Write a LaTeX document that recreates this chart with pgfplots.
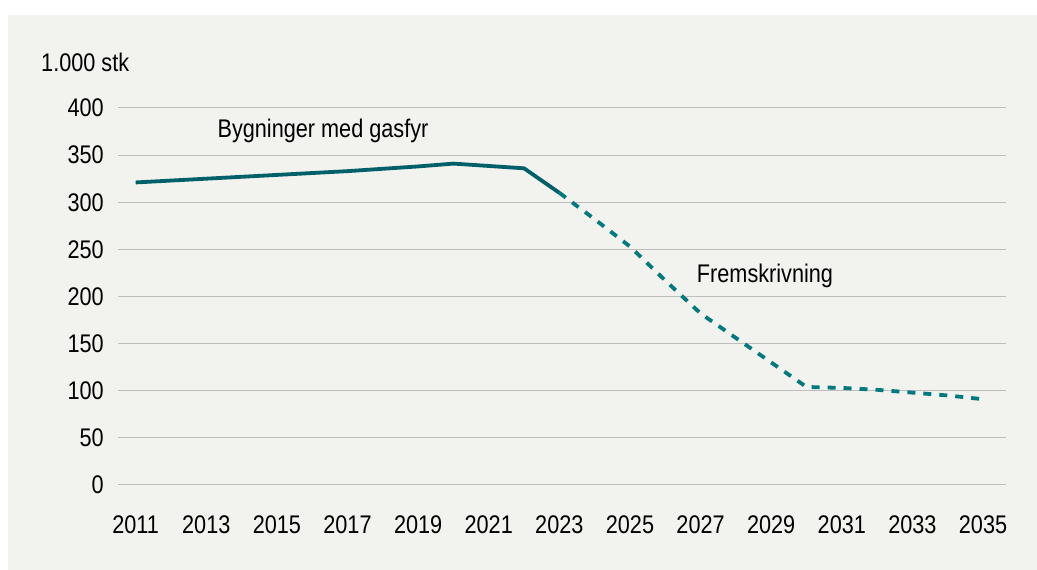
\documentclass[border=0pt]{standalone}
\usepackage{fontspec}
\setmainfont{Liberation Sans}[FakeStretch=0.85]
\usepackage{pgfplots}
\pgfplotsset{compat=1.18}
\definecolor{bg}{HTML}{F2F2EE}
\definecolor{solidc}{HTML}{00606A}
\definecolor{dashc}{HTML}{00797F}
\definecolor{gridc}{HTML}{BDBDBD}
\begin{document}
\begin{tikzpicture}[x=1pt,y=1pt]
\fill[white] (0,0) rectangle (1037,570);
\fill[bg] (8,0) rectangle (1037,555);
\begin{axis}[
  at={(118pt,85pt)}, anchor=south west,
  scale only axis, width=888pt, height=377pt,
  xmin=2010.5, xmax=2035.65, ymin=0, ymax=400,
  axis line style={draw=none}, tick style={draw=none},
  ymajorgrids, grid style={gridc, line width=1pt},
  xtick={2011,2013,...,2035},
  xticklabels={2011,2013,2015,2017,2019,2021,2023,2025,2027,2029,2031,2033,2035},
  ytick={0,50,...,400},
  /pgf/number format/assume math mode=true,
  tick label style={font=\fontsize{25.5}{29}\selectfont, inner sep=0pt},
  yticklabel style={anchor=east, xshift=-14pt},
  xticklabel style={anchor=north, yshift=-30pt},
  clip=false,
]
\addplot[solidc, line width=3.8pt, line join=round] coordinates {
 (2011,321) (2012,323) (2013,325) (2014,327) (2015,329) (2016,331)
 (2017,333) (2018,335.5) (2019,338) (2020,341) (2021,338.5) (2022,336) (2023,310)
};
\addplot[dashc, line width=3.8pt, dash pattern=on 8pt off 8pt] coordinates {
 (2023,310) (2024,282) (2025,253) (2026,217) (2027,182) (2028,156) (2029,130)
 (2030,104) (2031,103) (2032,101) (2033,98) (2034,95) (2035,91)
};
\end{axis}
\node[anchor=west, inner sep=0pt, font=\fontsize{25.5}{29}\selectfont] at (41,508) {1.000 stk};
\node[inner sep=0pt, font=\fontsize{25.5}{29}\selectfont] at (323,439) {Bygninger med gasfyr};
\node[inner sep=0pt, font=\fontsize{25.5}{29}\selectfont] at (765,294) {Fremskrivning};
\end{tikzpicture}
\end{document}
